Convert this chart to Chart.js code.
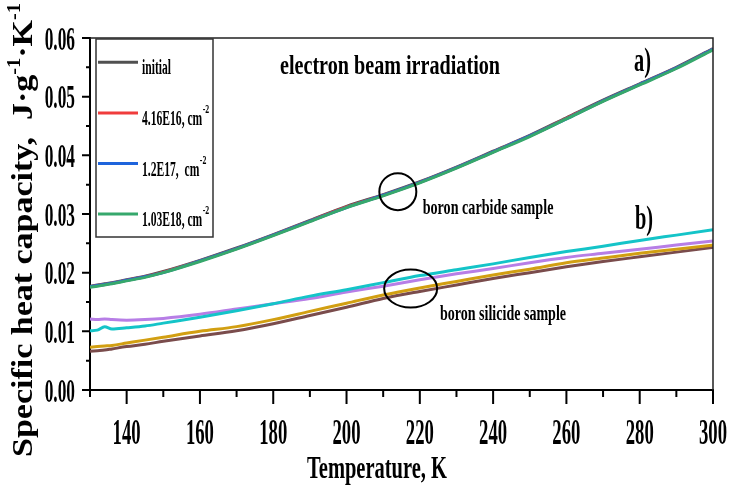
<!DOCTYPE html>
<html>
<head>
<meta charset="utf-8">
<script src="https://cdn.jsdelivr.net/npm/chart.js@4.4.1/dist/chart.umd.min.js"></script>
<style>
  html, body { margin: 0; padding: 0; background: #fff; }
  #wrap { width: 733px; height: 491px; position: relative; }
</style>
</head>
<body>
<div id="wrap"><canvas id="chart"></canvas></div>
<script>
// temperature grid, K
const temps = [130, 132, 134, 136, 140, 145, 150, 160, 170, 180, 190, 200, 210, 220, 230, 240, 250, 260, 270, 280, 290, 300];

// boron carbide, specific heat J/(g K) for each electron fluence
const carbideInitial = [0.0177, 0.0179, 0.0181, 0.0183, 0.0188, 0.0194, 0.0202, 0.0221, 0.0242, 0.0265, 0.0289, 0.0313, 0.0333, 0.0355, 0.0380, 0.0407, 0.0434, 0.0464, 0.0494, 0.0522, 0.0550, 0.0582];
const carbide416E16 = [0.0176, 0.0178, 0.0180, 0.0182, 0.0187, 0.0193, 0.0201, 0.0220, 0.0241, 0.0264, 0.0288, 0.0312, 0.0332, 0.0354, 0.0379, 0.0406, 0.0433, 0.0463, 0.0493, 0.0521, 0.0549, 0.0581];
const carbide12E17 = [0.0176, 0.0178, 0.0180, 0.0182, 0.0187, 0.0193, 0.0200, 0.0220, 0.0241, 0.0264, 0.0288, 0.0311, 0.0332, 0.0354, 0.0379, 0.0406, 0.0433, 0.0462, 0.0493, 0.0521, 0.0549, 0.0581];
const carbide103E18 = [0.0175, 0.0177, 0.0179, 0.0181, 0.0186, 0.0192, 0.0200, 0.0219, 0.0240, 0.0263, 0.0287, 0.0311, 0.0331, 0.0353, 0.0378, 0.0405, 0.0432, 0.0462, 0.0492, 0.0520, 0.0548, 0.0580];

// boron silicide, same fluences
const silicideInitial = [0.0121, 0.0120, 0.0121, 0.0120, 0.0119, 0.0120, 0.0122, 0.0129, 0.0138, 0.0147, 0.0156, 0.0167, 0.0177, 0.0188, 0.0198, 0.0207, 0.0217, 0.0226, 0.0233, 0.0240, 0.0247, 0.0254];
const silicide416E16 = [0.0101, 0.0102, 0.0108, 0.0104, 0.0106, 0.0109, 0.0114, 0.0124, 0.0135, 0.0147, 0.0160, 0.0171, 0.0183, 0.0195, 0.0205, 0.0215, 0.0226, 0.0236, 0.0245, 0.0255, 0.0264, 0.0273];
const silicide12E17 = [0.0073, 0.0074, 0.0075, 0.0076, 0.0080, 0.0085, 0.0090, 0.0100, 0.0108, 0.0120, 0.0134, 0.0148, 0.0162, 0.0174, 0.0185, 0.0196, 0.0206, 0.0217, 0.0225, 0.0233, 0.0240, 0.0247];
const silicide103E18 = [0.0066, 0.0067, 0.0068, 0.0070, 0.0074, 0.0078, 0.0083, 0.0092, 0.0101, 0.0113, 0.0127, 0.0141, 0.0156, 0.0168, 0.0179, 0.0190, 0.0200, 0.0210, 0.0219, 0.0227, 0.0235, 0.0243];

const xTicks = [140, 160, 180, 200, 220, 240, 260, 280, 300];
const xMinor = [130, 150, 170, 190, 210, 230, 250, 270, 290];
const yTicks = [0, 0.01, 0.02, 0.03, 0.04, 0.05, 0.06];
const yMinor = [0.005, 0.015, 0.025, 0.035, 0.045, 0.055];

const legendLabels = ['initial', '4.16E16, cm', '1.2E17,  cm', '1.03E18, cm'];
const legendSup = ['', '-2', '-2', '-2'];
const legendColors = ['#505050', '#f03c3c', '#1e64dc', '#36a86c'];

const FONT = '"Liberation Serif", "Times New Roman", serif';

// narrow bold serif text, squeezed horizontally by sx
function squeezed(ctx, text, x, y, size, sx, align) {
  ctx.save();
  ctx.font = `bold ${size}px ${FONT}`;
  ctx.textAlign = align || 'left';
  ctx.textBaseline = 'alphabetic';
  ctx.fillStyle = '#000';
  ctx.translate(x, y);
  ctx.scale(sx, 1);
  ctx.fillText(text, 0, 0);
  ctx.restore();
}

// same, but squeezed to a given width
function fitted(ctx, text, x, y, size, width, align) {
  ctx.font = `bold ${size}px ${FONT}`;
  const sx = width / ctx.measureText(text).width;
  squeezed(ctx, text, x, y, size, sx, align);
  return sx;
}

const paper = {
  id: 'paper',
  afterDraw(chart) {
    const { ctx, chartArea: a, scales: { x, y } } = chart;
    ctx.save();

    // top / right frame
    ctx.strokeStyle = '#222';
    ctx.lineWidth = 1.5;
    ctx.beginPath();
    ctx.moveTo(a.left, a.top);
    ctx.lineTo(a.right, a.top);
    ctx.lineTo(a.right, a.bottom);
    ctx.stroke();

    // tick marks, pointing out
    ctx.strokeStyle = '#000';
    ctx.lineWidth = 2;
    ctx.beginPath();
    xTicks.forEach(v => { const px = x.getPixelForValue(v); ctx.moveTo(px, a.bottom); ctx.lineTo(px, a.bottom + 14); });
    xMinor.forEach(v => { const px = x.getPixelForValue(v); ctx.moveTo(px, a.bottom); ctx.lineTo(px, a.bottom + 7); });
    yTicks.forEach(v => { const py = y.getPixelForValue(v); ctx.moveTo(a.left, py); ctx.lineTo(a.left - 8, py); });
    yMinor.forEach(v => { const py = y.getPixelForValue(v); ctx.moveTo(a.left, py); ctx.lineTo(a.left - 4, py); });
    ctx.stroke();

    // tick labels
    xTicks.forEach(v => squeezed(ctx, String(v), x.getPixelForValue(v), 444, 36, 0.52, 'center'));
    yTicks.forEach(v => squeezed(ctx, v.toFixed(2), 75, y.getPixelForValue(v) + 11.5, 34, 0.51, 'right'));

    // axis titles
    fitted(ctx, 'Temperature, K', 377, 478, 32, 140, 'center');

    const segs = [['Specific heat capacity,  J\u00b7g', 0], ['-1', 1], ['\u00b7K', 0], ['-1', 1]];
    let total = 0;
    segs.forEach(([t, sup]) => {
      ctx.font = `bold ${sup ? 18 : 30}px ${FONT}`;
      total += ctx.measureText(t).width;
    });
    ctx.save();
    ctx.translate(31.5, 457);
    ctx.rotate(-Math.PI / 2);
    ctx.scale(454 / total, 1);
    ctx.fillStyle = '#000';
    ctx.textBaseline = 'alphabetic';
    let off = 0;
    segs.forEach(([t, sup]) => {
      ctx.font = `bold ${sup ? 18 : 30}px ${FONT}`;
      ctx.fillText(t, off, sup ? -12 : 0);
      off += ctx.measureText(t).width;
    });
    ctx.restore();

    // legend box
    ctx.strokeStyle = '#333';
    ctx.lineWidth = 1.5;
    ctx.strokeRect(96, 39, 117, 198);
    legendLabels.forEach((label, i) => {
      const ly = 62.3 + i * 50.6;
      ctx.strokeStyle = legendColors[i];
      ctx.lineWidth = 3;
      ctx.beginPath();
      ctx.moveTo(98, ly);
      ctx.lineTo(138, ly);
      ctx.stroke();
      squeezed(ctx, label, 142, ly + 12, 20, 0.58);
      if (legendSup[i]) {
        ctx.font = `bold 20px ${FONT}`;
        const w = ctx.measureText(label).width * 0.58;
        squeezed(ctx, legendSup[i], 142 + w + 0.5, ly, 13, 0.6);
      }
    });

    // annotations
    fitted(ctx, 'electron beam irradiation', 280, 74.3, 28, 220);
    squeezed(ctx, 'a)', 634, 71, 34, 0.6);
    squeezed(ctx, 'b)', 635, 228.5, 34, 0.6);
    fitted(ctx, 'boron carbide sample', 422.7, 214, 21.5, 130.7);
    fitted(ctx, 'boron silicide sample', 440, 320, 20, 126);

    // rings marking each sample group
    ctx.strokeStyle = '#000';
    ctx.lineWidth = 2;
    ctx.beginPath();
    ctx.ellipse(x.getPixelForValue(214), y.getPixelForValue(0.0338), 18.5, 18.5, 0, 0, Math.PI * 2);
    ctx.stroke();
    ctx.beginPath();
    ctx.ellipse(x.getPixelForValue(217.5), y.getPixelForValue(0.0173), 26.5, 19, 0, 0, Math.PI * 2);
    ctx.stroke();

    ctx.restore();
  }
};

function series(data, color, order) {
  return {
    data: temps.map((t, i) => ({ x: t, y: data[i] })),
    borderColor: color,
    borderWidth: 3,
    pointRadius: 0,
    fill: false,
    cubicInterpolationMode: 'monotone',
    order
  };
}

new Chart(document.getElementById('chart'), {
  type: 'line',
  data: {
    datasets: [
      series(carbideInitial, legendColors[0], 3),
      series(carbide416E16, legendColors[1], 2),
      series(carbide12E17, legendColors[2], 1),
      series(carbide103E18, legendColors[3], 0),
      series(silicideInitial, '#b77ee6', 5),
      series(silicide416E16, '#14c4c8', 4),
      series(silicide12E17, '#d29f12', 6),
      series(silicide103E18, '#7a4c4c', 7)
    ]
  },
  options: {
    responsive: true,
    maintainAspectRatio: false,
    animation: false,
    events: [],
    layout: { padding: { top: 38, right: 20, left: 0, bottom: 0 } },
    plugins: { legend: { display: false }, tooltip: { enabled: false } },
    scales: {
      x: {
        type: 'linear', min: 130, max: 300,
        grid: { display: false },
        ticks: { display: false, stepSize: 20 },
        border: { display: true, color: '#000', width: 2 },
        afterFit: s => { s.height = 101; }
      },
      y: {
        min: 0, max: 0.06,
        grid: { display: false },
        ticks: { display: false, stepSize: 0.01 },
        border: { display: true, color: '#000', width: 2 },
        afterFit: s => { s.width = 90; }
      }
    }
  },
  plugins: [paper]
});
</script>
</body>
</html>
